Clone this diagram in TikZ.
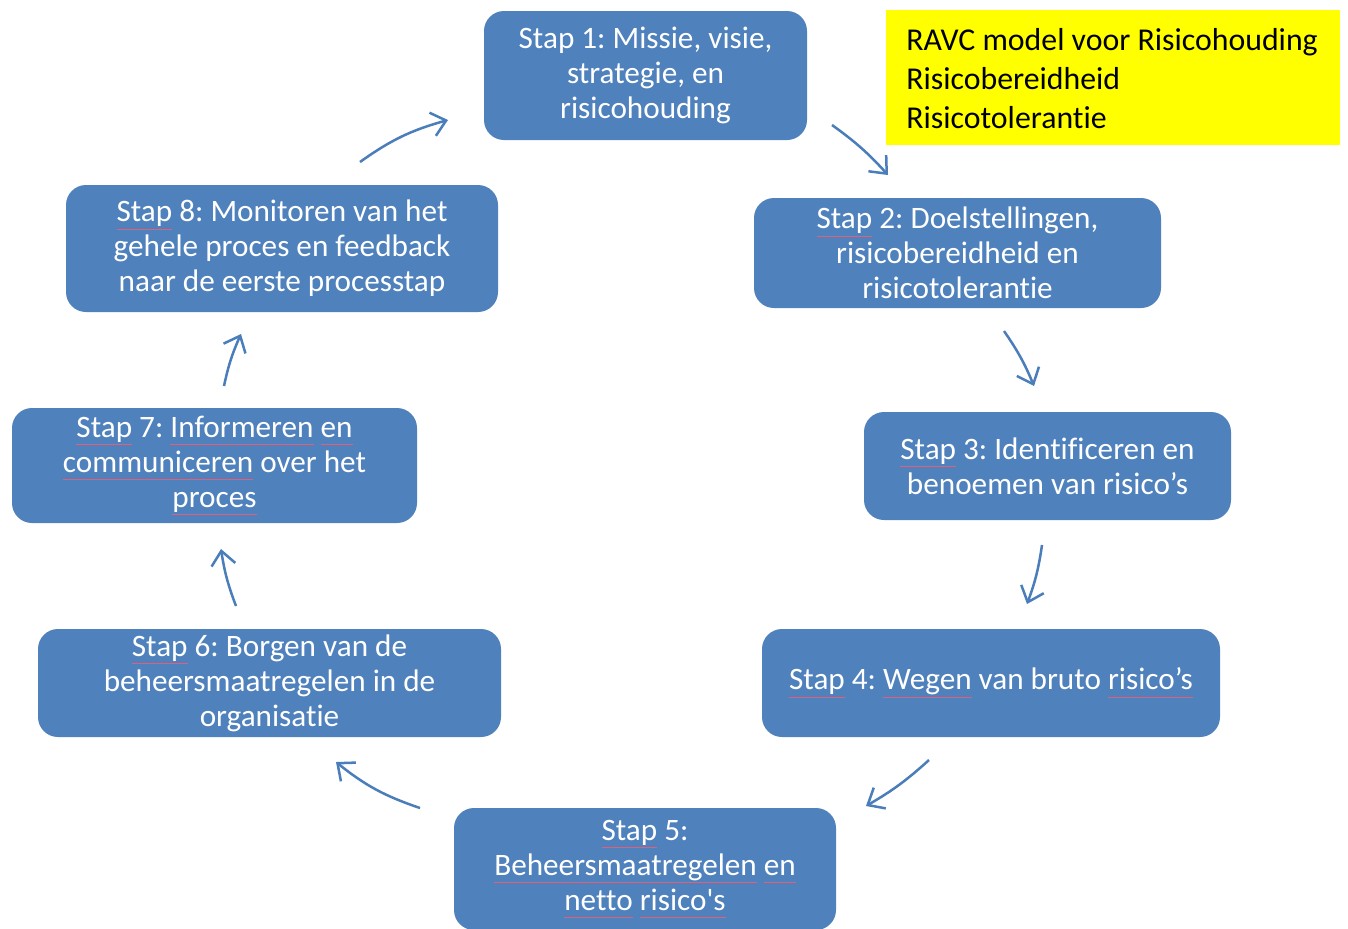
\documentclass[tikz,border=0pt]{standalone}
\usepackage{fontspec}
\setmainfont{Carlito}[Ligatures={TeX,NoCommon}]
\usetikzlibrary{arrows.meta}
\frenchspacing
\definecolor{stepblue}{HTML}{4F81BD}
\definecolor{arrowblue}{HTML}{4A7EBB}
\definecolor{spellred}{HTML}{E0607A}
\definecolor{notefill}{HTML}{FFFF00}
% word with a spell-check squiggle underneath
\newcommand\sqw[1]{\setbox0\hbox{#1}\rlap{\color{spellred}\rule[-4.1pt]{\wd0}{0.5pt}}\box0\relax}
\tikzset{
  stepbox/.style={fill=stepblue, rounded corners=10pt, text=white, align=center,
    inner sep=0pt, font=\fontsize{15.6pt}{17.5pt}\selectfont},
  flow/.style={draw=arrowblue, line width=1.25pt,
    -{Straight Barb[length=7pt,width=12pt,line width=1.25pt]}},
}
\begin{document}
\begin{tikzpicture}[x=0.5pt,y=0.5pt]
\clip (0,0) rectangle (1348,-928);
\fill[white] (0,0) rectangle (1348,-928);

% process steps
\node[stepbox, minimum width=161.5pt, minimum height=64.5pt] (s1) at (645.5,-75.5)
  {Stap 1: Missie, visie,\\strategie, en\\risicohouding};
\node[stepbox, minimum width=203.5pt, minimum height=55pt] (s2) at (957.5,-253)
  {\sqw{Stap} 2: Doelstellingen,\\risicobereidheid en\\risicotolerantie};
\node[stepbox, minimum width=183.5pt, minimum height=54pt] (s3) at (1047.5,-466)
  {\sqw{Stap} 3: Identificeren en\\benoemen van risico’s};
\node[stepbox, minimum width=229pt, minimum height=54pt] (s4) at (991,-683)
  {\sqw{Stap} 4: \sqw{Wegen} van bruto \sqw{risico’s}};
\node[stepbox, minimum width=191pt, minimum height=61pt] (s5) at (645,-869)
  {\sqw{Stap} 5:\\\sqw{Beheersmaatregelen} \sqw{en}\\\sqw{netto} \sqw{risico\textquotesingle s}};
\node[stepbox, minimum width=231.5pt, minimum height=54pt] (s6) at (269.5,-683)
  {\sqw{Stap} 6: Borgen van de\\beheersmaatregelen in de\\organisatie};
\node[stepbox, minimum width=202.5pt, minimum height=57.5pt] (s7) at (214.5,-465.5)
  {\sqw{Stap} 7: \sqw{Informeren} \sqw{en}\\\sqw{communiceren} over het\\\sqw{proces}};
\node[stepbox, minimum width=216pt, minimum height=63.5pt] (s8) at (282,-248.5)
  {\sqw{Stap} 8: Monitoren van het\\gehele proces en feedback\\naar de eerste processtap};

% legend
\node[fill=notefill, anchor=north west, minimum width=227pt, minimum height=67.5pt,
  inner sep=0pt] (legend) at (886,-10) {};
\node[anchor=west, align=left, inner sep=0pt,
  font=\fontsize{15.9pt}{19.5pt}\selectfont] (legendtext) at (906,-79)
  {RAVC model voor Risicohouding\\Risicobereidheid\\Risicotolerantie};

% arrow end points between the steps
\coordinate (a12) at (832,-125);  \coordinate (b12) at (888,-175);
\coordinate (a23) at (1004,-331); \coordinate (b23) at (1034,-386);
\coordinate (a34) at (1042,-545); \coordinate (b34) at (1027,-604);
\coordinate (a45) at (929,-760);  \coordinate (b45) at (866,-806);
\coordinate (a56) at (420,-808);  \coordinate (b56) at (336,-762);
\coordinate (a67) at (236,-606);  \coordinate (b67) at (221,-549);
\coordinate (a78) at (224,-386);  \coordinate (b78) at (241,-334);
\coordinate (a81) at (360,-162);  \coordinate (b81) at (448,-120);

\draw[flow] (a12) to[bend left=6] (b12);
\draw[flow] (a23) to[bend left=6] (b23);
\draw[flow] (a34) to[bend left=6] (b34);
\draw[flow] (a45) to[bend left=6] (b45);
\draw[flow] (a56) to[bend left=10] (b56);
\draw[flow] (a67) to[bend left=6] (b67);
\draw[flow] (a78) to[bend left=6] (b78);
\draw[flow] (a81) to[bend left=10] (b81);
\end{tikzpicture}
\end{document}
